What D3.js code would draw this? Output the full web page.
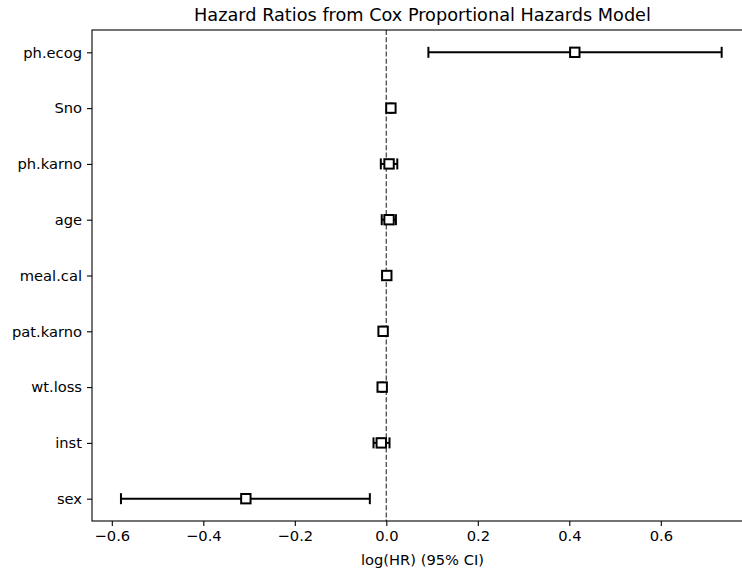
<!DOCTYPE html>
<html>
<head>
<meta charset="utf-8">
<script src="https://cdn.jsdelivr.net/npm/d3@7"></script>
<style>
  body { margin: 0; background: #fff; }
  svg { display: block; font-family: "DejaVu Sans", sans-serif; }
  .axis text { font-family: "DejaVu Sans", sans-serif; font-size: 14.7px; fill: #000; }
  .axis path, .axis line { stroke: #000; stroke-width: 1.1; }
</style>
</head>
<body>
<svg id="chart" width="742" height="572"></svg>
<script>
// covariates, top to bottom
var covariates = ['ph.ecog', 'Sno', 'ph.karno', 'age', 'meal.cal', 'pat.karno', 'wt.loss', 'inst', 'sex'];
var logHR   = [0.412, 0.010, 0.006, 0.006, 0.001, -0.007, -0.009, -0.011, -0.307];
var ciLower = [0.092, 0.008, -0.012, -0.010, -0.001, -0.009, -0.011, -0.028, -0.580];
var ciUpper = [0.733, 0.012, 0.024, 0.021, 0.003, -0.005, -0.007, 0.007, -0.036];
var xTicks  = [-0.6, -0.4, -0.2, 0.0, 0.2, 0.4, 0.6];

var margin = { top: 30, left: 92 };
var width = 661;   // runs past the window edge, like the reference
var height = 491;

var svg = d3.select('#chart');
var g = svg.append('g')
    .attr('transform', 'translate(' + margin.left + ',' + margin.top + ')');

var x = d3.scaleLinear()
    .domain([-0.6433, 0.8015])
    .range([0, width]);

var y = d3.scaleLinear()
    .domain([-0.4, covariates.length - 1 + 0.4])
    .range([0, height]);

var data = covariates.map(function(name, i) {
  return { name: name, i: i, hr: logHR[i], lo: ciLower[i], hi: ciUpper[i] };
});

// reference line at 0
g.append('line')
    .attr('x1', x(0)).attr('x2', x(0))
    .attr('y1', 0).attr('y2', height)
    .attr('stroke', '#555')
    .attr('stroke-width', 1.4)
    .attr('stroke-dasharray', '5,2.2');

// axes
g.append('g')
    .attr('class', 'axis x')
    .attr('transform', 'translate(0,' + height + ')')
    .call(d3.axisBottom(x)
      .tickValues(xTicks)
      .tickSize(5)
      .tickPadding(5)
      .tickFormat(function(d) { return d3.format('.1f')(d).replace('-', '\u2212'); }))
    .call(function(a) { a.select('.domain').remove(); });

g.append('g')
    .attr('class', 'axis y')
    .call(d3.axisLeft(y)
      .tickValues(d3.range(covariates.length))
      .tickSize(5)
      .tickPadding(5)
      .tickFormat(function(d) { return covariates[d]; }))
    .call(function(a) { a.select('.domain').remove(); });

// spines
g.append('rect')
    .attr('x', 0).attr('y', 0)
    .attr('width', width).attr('height', height)
    .attr('fill', 'none')
    .attr('stroke', '#000')
    .attr('stroke-width', 1.1);

// error bars
var bars = g.selectAll('.bar')
    .data(data)
    .enter().append('g')
    .attr('class', 'bar');

bars.append('line')
    .attr('x1', function(d) { return x(d.lo); })
    .attr('x2', function(d) { return x(d.hi); })
    .attr('y1', function(d) { return y(d.i); })
    .attr('y2', function(d) { return y(d.i); })
    .attr('stroke', '#000')
    .attr('stroke-width', 2);

['lo', 'hi'].forEach(function(k) {
  bars.append('line')
      .attr('x1', function(d) { return x(d[k]); })
      .attr('x2', function(d) { return x(d[k]); })
      .attr('y1', function(d) { return y(d.i) - 5.5; })
      .attr('y2', function(d) { return y(d.i) + 5.5; })
      .attr('stroke', '#000')
      .attr('stroke-width', 2);
});

bars.append('rect')
    .attr('x', function(d) { return x(d.hr) - 4.7; })
    .attr('y', function(d) { return y(d.i) - 4.7; })
    .attr('width', 9.4)
    .attr('height', 9.4)
    .attr('fill', '#fff')
    .attr('stroke', '#000')
    .attr('stroke-width', 2);

// title and axis label
svg.append('text')
    .attr('x', margin.left + width / 2)
    .attr('y', 21)
    .attr('text-anchor', 'middle')
    .style('font-size', '17.7px')
    .text('Hazard Ratios from Cox Proportional Hazards Model');

svg.append('text')
    .attr('x', margin.left + width / 2)
    .attr('y', 565)
    .attr('text-anchor', 'middle')
    .style('font-size', '14.7px')
    .text('log(HR) (95% CI)');
</script>
</body>
</html>
